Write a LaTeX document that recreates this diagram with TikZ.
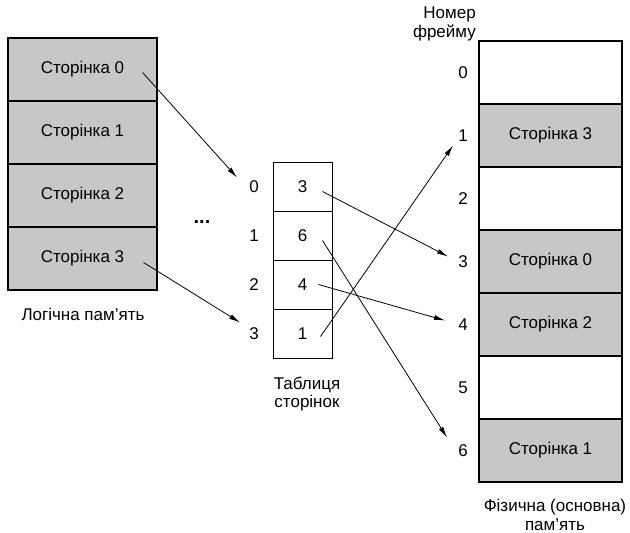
\documentclass[tikz,border=0pt]{standalone}
\usepackage{fontspec}
\setmainfont{Liberation Sans}
\usetikzlibrary{arrows.meta}
\begin{document}
\begin{tikzpicture}[x=1pt,y=-1pt,
  txt/.style={font=\fontsize{17}{18.5}\selectfont, inner sep=0pt},
  page/.style={draw, line width=1.1pt, fill=black!22, minimum width=149pt, minimum height=63pt, inner sep=0pt, font=\fontsize{17}{18.5}\selectfont},
  frame/.style={draw, line width=1.1pt, minimum width=143pt, minimum height=63pt, inner sep=0pt, font=\fontsize{17}{18.5}\selectfont},
  used/.style={fill=black!22},
  cell/.style={draw, line width=0.9pt, minimum width=59pt, minimum height=49pt, inner sep=0pt, font=\fontsize{17}{18.5}\selectfont},
  arr/.style={line width=0.8pt, -{Latex[length=11pt,width=5pt]}}
]
\useasboundingbox (0,0) rectangle (630,533);
% logical memory
\node[page] (p0) at (82.5,69.5) {Сторінка 0};
\node[page] (p1) at (82.5,132.5) {Сторінка 1};
\node[page] (p2) at (82.5,195.5) {Сторінка 2};
\node[page] (p3) at (82.5,258.5) {Сторінка 3};
\node[txt] (lm) at (83,314) {Логічна пам'ять};
\node[txt, font=\fontsize{20}{20}\selectfont\bfseries] (dots) at (202,222) {...};
% page table
\node[cell] (c0) at (302.5,186.5) {3};
\node[cell] (c1) at (302.5,235.5) {6};
\node[cell] (c2) at (302.5,284.5) {4};
\node[cell] (c3) at (302.5,333.5) {1};
\node[txt] (i0) at (254,186.5) {0};
\node[txt] (i1) at (254,235.5) {1};
\node[txt] (i2) at (254,284.5) {2};
\node[txt] (i3) at (254,333.5) {3};
\node[txt, align=center] (pt) at (307,394) {Таблиця\\сторінок};
% physical memory
\node[frame] (f0) at (550.5,72.5) {};
\node[frame, used] (f1) at (550.5,135.5) {Сторінка 3};
\node[frame] (f2) at (550.5,198.5) {};
\node[frame, used] (f3) at (550.5,261.5) {Сторінка 0};
\node[frame, used] (f4) at (550.5,324.5) {Сторінка 2};
\node[frame] (f5) at (550.5,387.5) {};
\node[frame, used] (f6) at (550.5,450.5) {Сторінка 1};
\foreach \k in {0,...,6} {
  \node[txt] (n\k) at (463,72.5+63*\k) {\k};
}
\node[txt, align=right, anchor=east] (hdr) at (476,24) {Номер\\фрейму};
\node[txt, align=center] (pm) at (555,515) {Фізична (основна)\\пам'ять};
% arrows
\draw[arr] ([shift={(-15,3)}]p0.east) -- ([shift={(-17,-9)}]i0.center);
\draw[arr] ([shift={(-14,4)}]p3.east) -- ([shift={(-14,-11)}]i3.center);
\draw[arr] ([shift={(20,5)}]c0.center) -- ([shift={(-15,-5)}]n3.center);
\draw[arr] ([shift={(20,5)}]c1.center) -- ([shift={(-16,-13)}]n6.center);
\draw[arr] ([shift={(16,0)}]c2.center) -- ([shift={(-18,-4)}]n4.center);
\draw[arr] ([shift={(18,3)}]c3.center) -- ([shift={(-10,10)}]n1.center);
\end{tikzpicture}
\end{document}
